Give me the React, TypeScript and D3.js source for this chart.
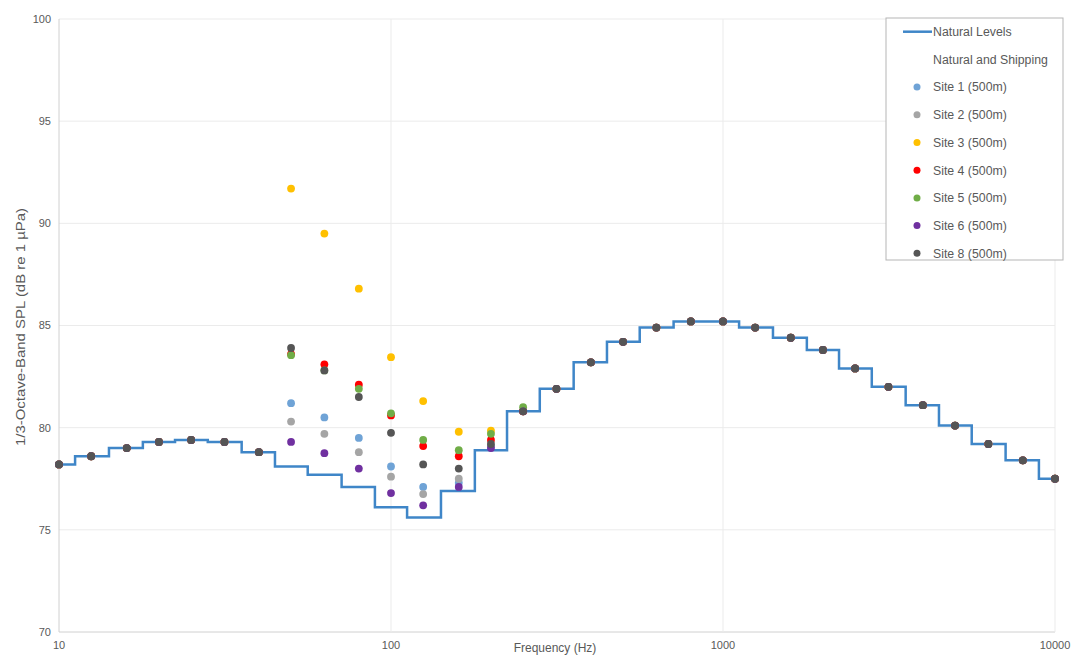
import React from "react";
import * as d3 from "d3";

const freqs = [10, 12.5, 16, 20, 25, 31.5, 40, 50, 63, 80, 100, 125, 160, 200, 250, 315, 400, 500, 630, 800, 1000, 1250, 1600, 2000, 2500, 3150, 4000, 5000, 6300, 8000, 10000];

const naturalLevels = [78.2, 78.6, 79.0, 79.3, 79.4, 79.3, 78.8, 78.1, 77.7, 77.1, 76.1, 75.6, 76.9, 78.9, 80.8, 81.9, 83.2, 84.2, 84.9, 85.2, 85.2, 84.9, 84.4, 83.8, 82.9, 82.0, 81.1, 80.1, 79.2, 78.4, 77.5];

const site1 = [78.2, 78.6, 79.0, 79.3, 79.4, 79.3, 78.8, 81.2, 80.5, 79.5, 78.1, 77.1, 77.3, 79.1, 80.8, 81.9, 83.2, 84.2, 84.9, 85.2, 85.2, 84.9, 84.4, 83.8, 82.9, 82.0, 81.1, 80.1, 79.2, 78.4, 77.5];
const site2 = [78.2, 78.6, 79.0, 79.3, 79.4, 79.3, 78.8, 80.3, 79.7, 78.8, 77.6, 76.75, 77.5, 79.1, 80.8, 81.9, 83.2, 84.2, 84.9, 85.2, 85.2, 84.9, 84.4, 83.8, 82.9, 82.0, 81.1, 80.1, 79.2, 78.4, 77.5];
const site3 = [78.2, 78.6, 79.0, 79.3, 79.4, 79.3, 78.8, 91.7, 89.5, 86.8, 83.45, 81.3, 79.8, 79.85, 80.8, 81.9, 83.2, 84.2, 84.9, 85.2, 85.2, 84.9, 84.4, 83.8, 82.9, 82.0, 81.1, 80.1, 79.2, 78.4, 77.5];
const site4 = [78.2, 78.6, 79.0, 79.3, 79.4, 79.3, 78.8, 83.6, 83.1, 82.1, 80.6, 79.1, 78.6, 79.4, 80.8, 81.9, 83.2, 84.2, 84.9, 85.2, 85.2, 84.9, 84.4, 83.8, 82.9, 82.0, 81.1, 80.1, 79.2, 78.4, 77.5];
const site5 = [78.2, 78.6, 79.0, 79.3, 79.4, 79.3, 78.8, 83.55, 82.8, 81.9, 80.7, 79.4, 78.9, 79.7, 81.0, 81.9, 83.2, 84.2, 84.9, 85.2, 85.2, 84.9, 84.4, 83.8, 82.9, 82.0, 81.1, 80.1, 79.2, 78.4, 77.5];
const site6 = [78.2, 78.6, 79.0, 79.3, 79.4, 79.3, 78.8, 79.3, 78.75, 78.0, 76.8, 76.2, 77.1, 79.0, 80.8, 81.9, 83.2, 84.2, 84.9, 85.2, 85.2, 84.9, 84.4, 83.8, 82.9, 82.0, 81.1, 80.1, 79.2, 78.4, 77.5];
const site8 = [78.2, 78.6, 79.0, 79.3, 79.4, 79.3, 78.8, 83.9, 82.8, 81.5, 79.75, 78.2, 78.0, 79.2, 80.8, 81.9, 83.2, 84.2, 84.9, 85.2, 85.2, 84.9, 84.4, 83.8, 82.9, 82.0, 81.1, 80.1, 79.2, 78.4, 77.5];

const siteNames = ["Site 1 (500m)", "Site 2 (500m)", "Site 3 (500m)", "Site 4 (500m)", "Site 5 (500m)", "Site 6 (500m)", "Site 8 (500m)"];
const siteValues = [site1, site2, site3, site4, site5, site6, site8];
const siteColors = ["#6fa3d6", "#a5a5a5", "#ffc000", "#ff0000", "#70ad47", "#7030a0", "#555555"];

const yTicks = [70, 75, 80, 85, 90, 95, 100];
const xTicks = [10, 100, 1000, 10000];

const W = 1076;
const H = 656;
const M = { left: 59, right: 21, top: 19, bottom: 24 };

export default function App() {
  const x = d3.scaleLog().domain([10, 10000]).range([M.left, W - M.right]);
  const y = d3.scaleLinear().domain([70, 100]).range([H - M.bottom, M.top]);

  const line = d3
    .line<number>()
    .x((_, i) => x(freqs[i]))
    .y((d) => y(d))
    .curve(d3.curveStep);

  const font = "'Liberation Sans', Arial, sans-serif";
  const textColor = "#595959";

  const legendX = 886;
  const legendY = 18;
  const legendRowH = 27.7;
  const legendItems = [
    { name: "Natural Levels", type: "line", color: "#3f86c8" },
    { name: "Natural and Shipping", type: "none", color: "none" },
    ...siteNames.map((n, i) => ({ name: n, type: "dot", color: siteColors[i] })),
  ];

  return (
    <div style={{ position: "absolute", left: 0, top: 0 }}>
      <svg width={W} height={H} style={{ display: "block", background: "#fff" }}>
        {/* grid */}
        {yTicks.map((t) => (
          <line key={"gy" + t} x1={M.left} x2={W - M.right} y1={y(t)} y2={y(t)} stroke={t === 70 ? "#d0d0d0" : "#ebebeb"} strokeWidth={1} />
        ))}
        {xTicks.map((t) => (
          <line key={"gx" + t} x1={x(t)} x2={x(t)} y1={M.top} y2={H - M.bottom} stroke={t === 10 ? "#d0d0d0" : "#ebebeb"} strokeWidth={1} />
        ))}

        {/* y tick labels */}
        {yTicks.map((t) => (
          <text key={"ty" + t} x={M.left - 8} y={y(t)} dy="0.35em" textAnchor="end" fontFamily={font} fontSize={11} fill={textColor}>
            {t}
          </text>
        ))}
        {/* x tick labels */}
        {xTicks.map((t) => (
          <text key={"tx" + t} x={x(t)} y={H - M.bottom + 17} textAnchor="middle" fontFamily={font} fontSize={11} fill={textColor}>
            {t}
          </text>
        ))}

        {/* axis titles */}
        <text x={555} y={H - 4} textAnchor="middle" fontFamily={font} fontSize={12} fill={textColor}>
          Frequency (Hz)
        </text>
        <text
          transform={`translate(20, 327) rotate(-90)`}
          textAnchor="middle"
          dy="0.35em"
          fontFamily={font}
          fontSize={13}
          fill={textColor}
          textLength={238}
          lengthAdjust="spacingAndGlyphs"
        >
          1/3-Octave-Band SPL (dB re 1 µPa)
        </text>

        {/* natural levels step line */}
        <path d={line(naturalLevels) || ""} fill="none" stroke="#3f86c8" strokeWidth={2.5} />

        {/* site points */}
        {siteValues.map((vals, si) => (
          <g key={"s" + si}>
            {vals.map((v, i) => (
              <circle key={i} cx={x(freqs[i])} cy={y(v)} r={3.9} fill={siteColors[si]} />
            ))}
          </g>
        ))}

        {/* legend */}
        <rect x={legendX} y={legendY} width={177} height={242} fill="#fff" stroke="#b5b5b5" strokeWidth={1} />
        {legendItems.map((it, i) => {
          const cy = legendY + 13.7 + i * legendRowH;
          return (
            <g key={"l" + i}>
              {it.type === "line" && <line x1={903} x2={932} y1={cy} y2={cy} stroke={it.color} strokeWidth={2.5} />}
              {it.type === "dot" && <circle cx={917} cy={cy} r={3.5} fill={it.color} />}
              <text x={933} y={cy} dy="0.35em" fontFamily={font} fontSize={12.3} fill={textColor}>
                {it.name}
              </text>
            </g>
          );
        })}
      </svg>
    </div>
  );
}
